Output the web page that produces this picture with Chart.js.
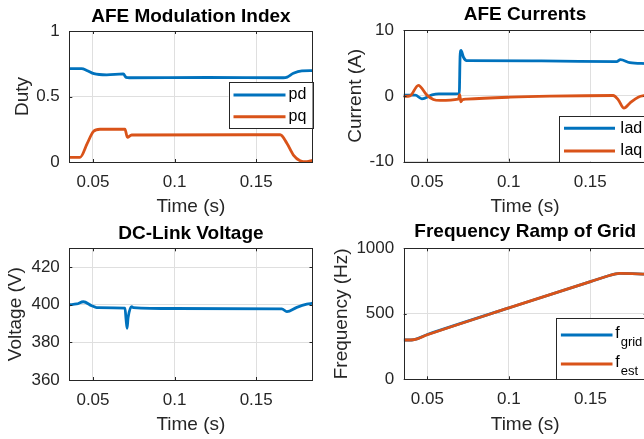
<!DOCTYPE html>
<html>
<head>
<meta charset="utf-8">
<script src="https://cdn.jsdelivr.net/npm/chart.js@4.4.0/dist/chart.umd.min.js"></script>
<style>
    html, body { margin: 0; padding: 0; background: #fff; overflow: hidden; }
    #page { position: relative; width: 644px; height: 439px; overflow: hidden; background: #fff; }
    .plot { position: absolute; }
</style>
</head>
<body>
<div id="page">
    <canvas id="modChart" class="plot" width="322" height="220" style="left:0px;top:0px"></canvas>
    <canvas id="curChart" class="plot" width="340" height="220" style="left:322px;top:0px"></canvas>
    <canvas id="dcChart" class="plot" width="322" height="219" style="left:0px;top:220px"></canvas>
    <canvas id="freqChart" class="plot" width="340" height="219" style="left:322px;top:220px"></canvas>
</div>
<script>
// time axis shared by all four plots
const timeRange = [0.0355, 0.1845];
const timeTicks = [0.05, 0.1, 0.15];

// AFE modulation index
const pdTime = [0.0355, 0.043, 0.0466, 0.0506, 0.0584, 0.0686, 0.0703, 0.0723, 0.12, 0.1666, 0.169, 0.1728, 0.178, 0.1845];
const pdValues = [0.713, 0.713, 0.697, 0.674, 0.665, 0.672, 0.646, 0.643, 0.645, 0.643, 0.648, 0.677, 0.695, 0.697];
const pqTime = [0.0355, 0.0421, 0.0465, 0.0502, 0.0543, 0.0696, 0.0711, 0.0737, 0.1647, 0.1688, 0.1728, 0.1769, 0.181, 0.1845];
const pqValues = [0.036, 0.036, 0.142, 0.232, 0.25, 0.25, 0.188, 0.206, 0.208, 0.143, 0.053, 0.01, 0.002, 0.012];
const dutyTicks = [0, 0.5, 1];

// AFE currents
const iadTime = [0.0355, 0.0427, 0.0468, 0.053, 0.0571, 0.0697, 0.0702, 0.0708, 0.0722, 0.0742, 0.12, 0.1662, 0.1685, 0.1743, 0.1845];
const iadValues = [0.1, 0.1, -0.45, 0.15, 0.3, 0.35, 6.0, 6.9, 5.9, 5.35, 5.3, 5.2, 5.5, 5.05, 4.9];
const iaqTime = [0.0355, 0.0395, 0.0446, 0.0497, 0.0538, 0.0579, 0.0691, 0.07, 0.0706, 0.0716, 0.0742, 0.1008, 0.1253, 0.1641, 0.1672, 0.1707, 0.1743, 0.1794, 0.1845];
const iaqValues = [-0.1, 0.0, 1.6, 0.15, -0.55, -0.7, -0.5, 0.2, -0.9, -0.6, -0.5, -0.2, -0.05, 0.05, -0.6, -1.85, -1.1, -0.2, 0.1];
const currentTicks = [-10, 0, 10];

// DC link voltage
const vdcTime = [0.0355, 0.04, 0.0441, 0.0492, 0.0523, 0.0696, 0.0703, 0.0709, 0.0715, 0.0737, 0.0747, 0.1, 0.1657, 0.1688, 0.1749, 0.181, 0.1845];
const vdcValues = [400.0, 400.4, 401.6, 399.5, 398.5, 398.2, 392, 387.5, 393, 399, 398.5, 398, 397.8, 396.3, 398.6, 400.3, 400.8];
const voltageTicks = [360, 380, 400, 420];

// grid frequency ramp
const fGridTime = [0.0355, 0.0405, 0.05, 0.1, 0.15, 0.1655, 0.168, 0.1845];
const fGridValues = [300, 300, 342, 545, 745, 805, 808, 803];
const fEstTime = [0.0355, 0.0415, 0.05, 0.1, 0.15, 0.1655, 0.168, 0.1845];
const fEstValues = [300, 302, 340, 545, 745, 805, 808, 803];
const freqTicks = [0, 500, 1000];

const BLUE = '#0072BD';
const ORANGE = '#D95319';
const FONT = '"Liberation Sans", Arial, Helvetica, sans-serif';
const INK = '#262626';

function pairs(times, values) {
    return times.map(function (t, i) { return { x: t, y: values[i] }; });
}

// MATLAB style box with small inward tick marks
const axesBox = {
    id: 'axesBox',
    afterDatasetsDraw(chart) {
        const ctx = chart.ctx;
        const a = chart.chartArea;
        const sx = chart.scales.x, sy = chart.scales.y;
        ctx.save();
        ctx.strokeStyle = INK;
        ctx.lineWidth = 1;
        ctx.beginPath();
        sx.ticks.forEach(function (t) {
            const px = Math.round(sx.getPixelForValue(t.value)) + 0.5;
            ctx.moveTo(px, a.bottom); ctx.lineTo(px, a.bottom - 3);
            ctx.moveTo(px, a.top); ctx.lineTo(px, a.top + 3);
        });
        sy.ticks.forEach(function (t) {
            const py = Math.round(sy.getPixelForValue(t.value)) + 0.5;
            ctx.moveTo(a.left, py); ctx.lineTo(a.left + 3, py);
            ctx.moveTo(a.right, py); ctx.lineTo(a.right - 3, py);
        });
        ctx.stroke();
        ctx.strokeRect(Math.round(a.left) + 0.5, Math.round(a.top) + 0.5,
            Math.round(a.right - a.left), Math.round(a.bottom - a.top));
        ctx.restore();
    }
};

// boxed legend inside the axes, labels like "f_grid" get a subscript
function makeLegend(cfg) {
    return {
        id: 'boxLegend',
        afterDraw(chart) {
            if (!cfg) return;
            const ctx = chart.ctx;
            const a = chart.chartArea;
            const x0 = a.right - cfg.width;
            const y0 = a.top + cfg.top;
            ctx.save();
            ctx.fillStyle = '#fff';
            ctx.fillRect(x0, y0, cfg.width, cfg.height);
            ctx.strokeStyle = INK;
            ctx.lineWidth = 1;
            ctx.strokeRect(Math.round(x0) + 0.5, Math.round(y0) + 0.5, Math.round(cfg.width), Math.round(cfg.height));
            chart.data.datasets.forEach(function (ds, i) {
                const y = y0 + cfg.rows[i];
                ctx.strokeStyle = ds.borderColor;
                ctx.lineWidth = 3;
                ctx.beginPath();
                ctx.moveTo(x0 + cfg.lineFrom, y);
                ctx.lineTo(x0 + cfg.lineTo, y);
                ctx.stroke();
                const parts = ds.label.split('_');
                ctx.fillStyle = '#000';
                ctx.font = '16px ' + FONT;
                if (parts.length > 1) {
                    ctx.textBaseline = 'alphabetic';
                    ctx.fillText(parts[0], x0 + cfg.textX, y + 3);
                    const w = ctx.measureText(parts[0]).width;
                    ctx.font = '13px ' + FONT;
                    ctx.fillText(parts[1], x0 + cfg.textX + w + 1, y + 11);
                } else {
                    ctx.textBaseline = 'middle';
                    ctx.fillText(parts[0], x0 + cfg.textX, y);
                }
            });
            ctx.restore();
        }
    };
}

function makePlot(id, cfg) {
    return new Chart(document.getElementById(id), {
        type: 'line',
        data: {
            datasets: cfg.series.map(function (s, i) {
                return {
                    label: s.label,
                    data: pairs(s.t, s.v),
                    borderColor: s.color,
                    backgroundColor: s.color,
                    borderWidth: 2.8,
                    pointRadius: 0,
                    cubicInterpolationMode: 'monotone',
                    fill: false,
                    order: -i // later series on top, as in MATLAB
                };
            })
        },
        options: {
            responsive: false,
            animation: false,
            devicePixelRatio: 1,
            events: [],
            layout: { padding: { left: 0, right: cfg.padRight, top: 0, bottom: 0 } },
            plugins: {
                legend: { display: false },
                tooltip: { enabled: false },
                title: {
                    display: true,
                    text: cfg.title,
                    fullSize: false,
                    color: '#000',
                    font: { family: FONT, size: 19, weight: 'bold' },
                    padding: { top: cfg.titlePad[0], bottom: cfg.titlePad[1] }
                }
            },
            scales: {
                x: {
                    type: 'linear',
                    min: timeRange[0],
                    max: timeRange[1],
                    afterBuildTicks: function (s) { s.ticks = timeTicks.map(function (v) { return { value: v }; }); },
                    afterFit: function (s) { s.height = cfg.xHeight; },
                    ticks: {
                        color: INK, padding: 10, maxRotation: 0, autoSkip: false,
                        font: { family: FONT, size: 17 },
                        callback: function (v) { return String(v); }
                    },
                    grid: { color: '#dfdfdf', drawTicks: false },
                    border: { display: false },
                    title: {
                        display: true, text: 'Time (s)', color: INK,
                        font: { family: FONT, size: 19 },
                        padding: { top: 0, bottom: cfg.xTitlePad }
                    }
                },
                y: {
                    type: 'linear',
                    min: cfg.yRange[0],
                    max: cfg.yRange[1],
                    afterBuildTicks: function (s) { s.ticks = cfg.yTicks.map(function (v) { return { value: v }; }); },
                    afterFit: function (s) { s.width = cfg.yWidth; },
                    ticks: {
                        color: INK, padding: 9.5,
                        font: { family: FONT, size: 17 },
                        callback: function (v) { return String(v); }
                    },
                    grid: { color: '#dfdfdf', drawTicks: false },
                    border: { display: false },
                    title: {
                        display: true, text: cfg.yLabel, color: INK,
                        font: { family: FONT, size: 19 },
                        padding: { top: cfg.yTitlePad, bottom: 0 }
                    }
                }
            }
        },
        plugins: [axesBox, makeLegend(cfg.legend)]
    });
}

makePlot('modChart', {
    title: 'AFE Modulation Index', yLabel: 'Duty',
    yRange: [0, 1], yTicks: dutyTicks,
    padRight: 9.5, yWidth: 69.3, xHeight: 58, titlePad: [5.3, 2.9], xTitlePad: 2.3, yTitlePad: 11,
    series: [
        { label: 'pd', t: pdTime, v: pdValues, color: BLUE },
        { label: 'pq', t: pqTime, v: pqValues, color: ORANGE }
    ],
    legend: { width: 84, top: 51.3, height: 46, rows: [12.7, 34.4], lineFrom: 5, lineTo: 57, textX: 60 }
});

makePlot('curChart', {
    title: 'AFE Currents', yLabel: 'Current (A)',
    yRange: [-10, 10], yTicks: currentTicks,
    padRight: 15.5, yWidth: 81.5, xHeight: 58.3, titlePad: [3.1, 4.1], xTitlePad: 2.3, yTitlePad: 21.9,
    series: [
        { label: 'Iad', t: iadTime, v: iadValues, color: BLUE },
        { label: 'Iaq', t: iaqTime, v: iaqValues, color: ORANGE }
    ],
    legend: { width: 87.2, top: 85.7, height: 46, rows: [12.6, 35.3], lineFrom: 4.7, lineTo: 55.7, textX: 60.7 }
});

makePlot('dcChart', {
    title: 'DC-Link Voltage', yLabel: 'Voltage (V)',
    yRange: [360, 430], yTicks: voltageTicks,
    padRight: 9.5, yWidth: 69.3, xHeight: 59, titlePad: [2.8, 2.7], xTitlePad: 2.6, yTitlePad: 4.4,
    series: [
        { label: 'Vdc', t: vdcTime, v: vdcValues, color: BLUE }
    ],
    legend: null
});

makePlot('freqChart', {
    title: 'Frequency Ramp of Grid', yLabel: 'Frequency (Hz)',
    yRange: [0, 1000], yTicks: freqTicks,
    padRight: 15.3, yWidth: 81.7, xHeight: 59.7, titlePad: [0.3, 5.2], xTitlePad: 2.6, yTitlePad: 8.6,
    series: [
        { label: 'f_grid', t: fGridTime, v: fGridValues, color: BLUE },
        { label: 'f_est', t: fEstTime, v: fEstValues, color: ORANGE }
    ],
    legend: { width: 90.5, top: 70, height: 61, rows: [16.7, 45.7], lineFrom: 4.7, lineTo: 56.3, textX: 59 }
});
</script>
</body>
</html>
